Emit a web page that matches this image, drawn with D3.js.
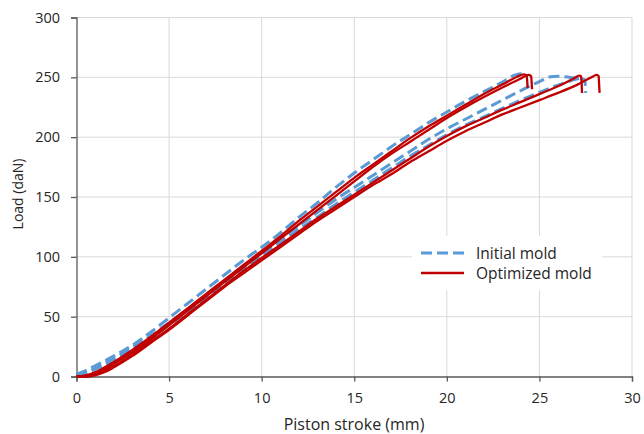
<!DOCTYPE html>
<html><head><meta charset="utf-8">
<script src="https://cdn.jsdelivr.net/npm/d3@7"></script>
<style>body{margin:0;background:#fff}svg{display:block}text{font-family:"Open Sans",sans-serif;fill:#262626}</style>
</head><body><svg id="c" width="644" height="434"></svg>
<script>
const xTicks=[0,5,10,15,20,25,30];
const yTicks=[0,50,100,150,200,250,300];
const seriesNames=["Initial mold","Optimized mold"];
// Initial mold curves (stroke mm, load daN)
const initial1=[[0,2],[0.5,5],[1,9],[2,17],[3,26],[4,37],[5,49],[6,61],[7,73],[8,85],[9,97],[10,108],[11,120],[12,133],[13,145],[14,158],[15,170],[16,181],[17,192],[18,202],[19,212],[20,221],[21,230],[22,238],[23,246],[23.7,252],[24.0,253],[24.3,251]];
const initial2=[[0,1],[0.5,3],[1,7],[2,15],[3,24],[4,34],[5,45],[6,56],[7,68],[8,80],[9,92],[10,104],[11,115],[12,126],[13,137],[14,148],[15,158],[16,168],[17,178],[18,188],[19,198],[20,207],[21,215],[22,223],[23,231],[24,239],[25,246.5],[25.6,250.5],[26,251],[26.6,250],[27.2,249],[27.45,248],[27.5,237]];
const initial3=[[0,1],[0.5,2.5],[1,6],[2,13],[3,22],[4,32],[5,43],[6,54],[7,66],[8,78],[9,90],[10,101],[11,112],[12,123],[13,133],[14,144],[15,154],[16,164],[17,174],[18,184],[19,193],[20,202],[21,210],[22,217],[23,224],[24,231],[25,237.5],[26,243.5],[27,248.5],[27.25,249.5]];
// Optimized mold curves
const optimized1=[[0,0],[0.5,1],[1,3.5],[1.5,7.5],[2,12],[3,22],[4,33],[5,45],[6,57],[7,69],[8,81],[9,93],[10,105],[11,117],[12,130],[13,142],[14,154],[15,166],[16,177],[17,188],[18,199],[19,209],[20,218],[21,227],[22,236],[23,244],[23.8,250.5],[24.15,252.5],[24.3,251.5],[24.34,247],[24.36,241]];
const optimized2=[[0,0],[0.5,0.5],[1,2.5],[1.5,6],[2,10.5],[3,20],[4,31],[5,43],[6,55],[7,67],[8,79],[9,91],[10,103],[11,115],[12,127],[13,139],[14,151],[15,163],[16,175],[17,186],[18,196],[19,206],[20,216],[21,225],[22,233.5],[23,241.5],[24,249],[24.4,252],[24.55,251],[24.58,246],[24.6,240]];
const optimized3=[[0,0],[0.5,0],[1,1.5],[1.5,4.5],[2,8.5],[3,18],[4,29],[5,40],[6,52],[7,64],[8,76],[9,88],[10,99],[11,110],[12,121],[13,132],[14,142],[15,152],[16,162],[17,172],[18,182],[19,192],[20,201],[21,209],[22,216],[23,223],[24,229.5],[25,236],[26,242.5],[26.9,249.5],[27.15,251.5],[27.25,251],[27.28,245],[27.3,237]];
const optimized4=[[0,0],[0.5,0],[1,1],[1.5,3.5],[2,7.5],[3,17],[4,28],[5,39],[6,51],[7,63],[8,75],[9,86],[10,97],[11,108],[12,119],[13,130],[14,140],[15,150],[16,160],[17,169],[18,179],[19,188],[20,197],[21,205],[22,212],[23,219],[24,225],[25,231],[26,237],[27,243.5],[27.8,250],[28.1,252],[28.2,251],[28.22,245],[28.25,237]];

const svg=d3.select("#c");
const L=76.5,R=632,T=17.5,B=376.5;
const x=d3.scaleLinear().domain([0,30]).range([L,R]);
const y=d3.scaleLinear().domain([0,300]).range([B,T]);

// gridlines
svg.append("g").selectAll("line.v").data(xTicks.slice(1)).join("line")
 .attr("x1",d=>x(d)).attr("x2",d=>x(d)).attr("y1",T).attr("y2",B)
 .attr("stroke","#d9d9d9").attr("stroke-width",1);
svg.append("g").selectAll("line.h").data(yTicks.slice(1)).join("line")
 .attr("x1",L).attr("x2",R).attr("y1",d=>y(d)).attr("y2",d=>y(d))
 .attr("stroke","#d9d9d9").attr("stroke-width",1);

// axes
const xa=svg.append("g").attr("transform",`translate(0,${B})`)
 .call(d3.axisBottom(x).tickValues(xTicks).tickSize(5).tickPadding(11));
const ya=svg.append("g").attr("transform",`translate(${L},0)`)
 .call(d3.axisLeft(y).tickValues(yTicks).tickSize(5.5).tickPadding(11));
[xa,ya].forEach(a=>{a.selectAll("path,line").attr("stroke","#595959").attr("stroke-width",1.3);
 a.selectAll("text").style("font-size","14.5px").style("font-family","'Open Sans',sans-serif").attr("fill","#262626");});

const line=d3.line().x(d=>x(d[0])).y(d=>y(d[1])).curve(d3.curveMonotoneX);
const plot=svg.append("g");
[initial1,initial2,initial3].forEach(c=>plot.append("path").attr("d",line(c))
 .attr("fill","none").attr("stroke","#5b9bd5").attr("stroke-width",3).attr("stroke-dasharray","11,5"));
[optimized1,optimized2,optimized3,optimized4].forEach(c=>plot.append("path").attr("d",line(c))
 .attr("fill","none").attr("stroke","#c00000").attr("stroke-width",2.3).attr("stroke-linejoin","round"));

// legend
const lg=svg.append("g");
lg.append("rect").attr("x",412).attr("y",236).attr("width",190).attr("height",54).attr("fill","#fff");
const styles=[{c:"#5b9bd5",w:3,d:"11,5"},{c:"#c00000",w:2.5,d:null}];
seriesNames.forEach((n,i)=>{
  const yy=253+i*20;
  lg.append("line").attr("x1",421).attr("x2",464).attr("y1",yy).attr("y2",yy)
   .attr("stroke",styles[i].c).attr("stroke-width",styles[i].w).attr("stroke-dasharray",styles[i].d);
  lg.append("text").attr("x",476).attr("y",yy+5.5).style("font-size","15.5px").text(n);
});

svg.append("text").attr("x",354).attr("y",430).attr("text-anchor","middle").style("font-size","16px").text("Piston stroke (mm)");
svg.append("text").attr("transform",`translate(23,194) rotate(-90)`).attr("text-anchor","middle").style("font-size","14px").text("Load (daN)");
</script></body></html>
